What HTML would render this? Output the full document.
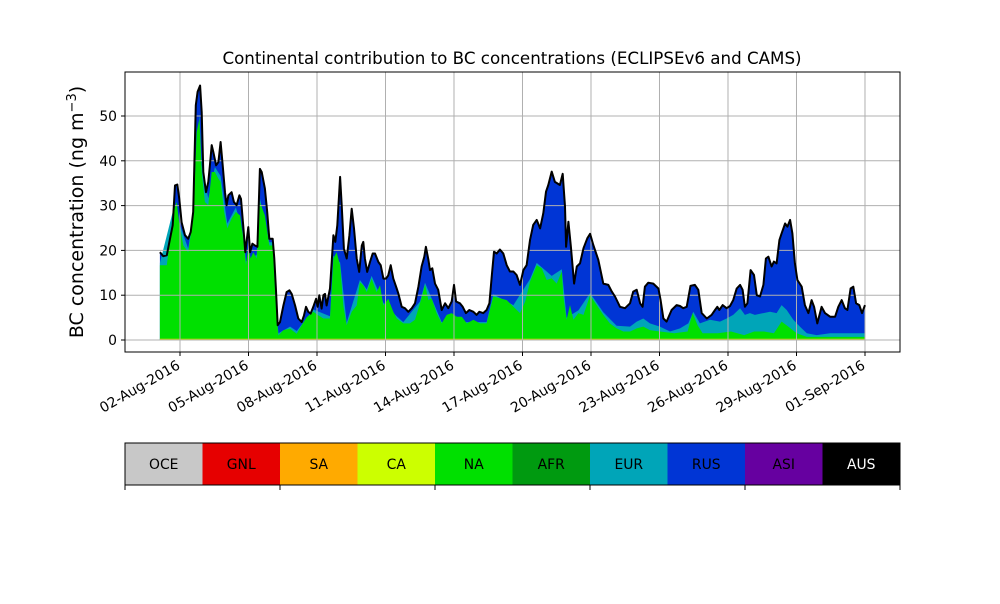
<!DOCTYPE html>
<html><head><meta charset="utf-8"><style>
body{margin:0;background:#fff;font-family:"DejaVu Sans",sans-serif}
svg text{font-family:"DejaVu Sans","Liberation Sans",sans-serif}
</style></head><body>
<svg id="c" width="1000" height="600" xmlns="http://www.w3.org/2000/svg">
<rect width="1000" height="600" fill="#fff"/>
<g id="areas"></g>
<g id="grid"></g>
<g id="topline"></g>
<rect x="125" y="72" width="775" height="280" fill="none" stroke="#000" stroke-width="1"/>
<g id="axes"></g>
<text x="512" y="64" text-anchor="middle" font-size="16.7">Continental contribution to BC concentrations (ECLIPSEv6 and CAMS)</text>
<text transform="translate(83,212) rotate(-90)" text-anchor="middle" font-size="19">BC concentration (ng m<tspan baseline-shift="super" font-size="13">−3</tspan>)</text>
<g id="legend"></g>
</svg>
<script>
const tTotal=[-0.88,-0.73,-0.58,-0.44,-0.32,-0.22,-0.12,-0.03,0.07,0.22,0.36,0.47,0.58,0.69,0.77,0.88,0.95,1.02,1.14,1.24,1.31,1.39,1.46,1.58,1.68,1.78,1.87,1.97,2.04,2.12,2.26,2.36,2.48,2.60,2.67,2.77,2.86,2.99,3.07,3.17,3.28,3.39,3.50,3.58,3.72,3.82,3.91,4.06,4.13,4.20,4.28,4.38,4.53,4.67,4.79,4.89,5.04,5.18,5.33,5.43,5.52,5.62,5.72,5.84,5.96,6.03,6.10,6.20,6.28,6.35,6.42,6.57,6.72,6.80,6.89,7.01,7.08,7.18,7.30,7.42,7.52,7.62,7.74,7.85,7.96,8.03,8.10,8.20,8.32,8.44,8.54,8.69,8.79,8.91,9.02,9.12,9.23,9.34,9.49,9.56,9.71,9.85,10.0,10.15,10.29,10.44,10.58,10.70,10.77,10.88,10.95,11.05,11.17,11.31,11.46,11.61,11.75,11.90,12.00,12.09,12.26,12.38,12.52,12.67,12.85,12.99,13.11,13.28,13.43,13.55,13.65,13.75,13.87,14.01,14.16,14.31,14.45,14.60,14.74,14.89,15.04,15.18,15.33,15.47,15.62,15.77,15.91,16.03,16.13,16.28,16.42,16.64,16.76,16.86,16.91,17.01,17.12,17.26,17.38,17.52,17.67,17.84,17.96,18.10,18.32,18.54,18.76,18.91,19.05,19.27,19.49,19.71,19.85,20.0,20.15,20.26,20.36,20.51,20.73,20.95,21.05,21.17,21.31,21.53,21.75,21.90,22.04,22.19,22.36,22.55,22.70,22.85,23.07,23.28,23.43,23.53,23.62,23.77,23.94,24.09,24.23,24.38,24.53,24.64,24.74,24.85,24.99,25.14,25.26,25.40,25.55,25.66,25.77,25.91,26.01,26.13,26.25,26.35,26.50,26.60,26.72,26.82,26.93,27.04,27.23,27.37,27.52,27.66,27.77,27.91,28.10,28.25,28.47,28.69,28.83,28.98,29.12,29.23,29.37,29.49,29.61,29.75,29.87,30.0];
const vTotal=[19.6,18.7,18.9,22.6,25.6,34.5,34.7,31.5,26.3,23.4,22.6,24.1,28.6,52.4,55.4,56.8,50.9,37.5,33.0,35.3,39.0,43.5,42.0,39.0,39.7,44.2,39.0,33.0,30.1,32.3,33.0,30.8,30.1,32.3,31.5,25.6,19.6,25.2,19.6,21.5,21.1,20.8,38.2,37.5,33.8,28.6,22.6,22.6,18.2,11.5,3.3,4.0,7.7,10.7,11.1,10.3,7.7,4.8,4.0,5.5,7.4,6.3,5.9,7.4,9.2,7.4,10.0,7.0,10.0,10.3,7.7,11.5,23.4,21.9,25.6,36.4,30.1,20.4,18.2,23.4,29.3,24.9,18.2,15.2,21.1,21.9,18.2,15.2,17.4,19.3,19.3,17.4,16.7,13.7,13.7,14.4,16.7,13.7,11.5,10.4,7.4,7.1,6.3,7.1,8.2,11.9,16.4,18.6,20.8,17.9,15.6,16.0,12.6,11.2,6.7,8.2,7.1,8.6,12.3,8.6,8.2,7.4,6.0,6.7,6.3,5.6,6.3,6.0,6.7,8.2,14.1,19.7,19.3,20.2,19.3,16.7,15.3,15.3,14.5,12.3,15.6,16.7,22.3,25.7,26.8,24.9,28.3,33.1,34.6,37.6,35.3,34.6,37.1,29.8,20.8,26.4,20.8,12.6,16.4,17.1,20.5,22.7,23.7,21.2,17.9,12.6,12.3,10.8,9.7,7.4,7.1,8.2,10.8,11.2,8.2,7.4,11.9,12.8,12.6,11.5,8.9,4.8,4.1,6.7,7.8,7.6,7.1,7.4,12.1,12.3,11.2,6.0,4.8,5.6,6.7,7.4,6.7,7.8,7.1,7.6,8.9,11.5,12.3,11.2,7.4,8.2,15.6,14.5,10.0,9.7,12.3,18.2,18.6,16.4,17.5,17.1,22.3,23.8,26.0,25.3,26.8,23.8,17.1,13.4,11.9,7.8,6.0,8.9,7.4,3.7,7.4,6.0,5.2,5.2,7.4,8.9,7.1,6.7,11.5,11.9,8.2,7.8,6.0,7.8];
const tEur=[-0.88,-0.29,0.0,0.36,0.58,0.85,0.95,1.24,1.53,1.78,2.07,2.45,2.77,2.89,3.36,3.50,3.91,4.06,4.20,4.31,4.82,5.11,5.84,6.57,6.72,7.01,7.30,7.88,8.18,8.39,8.91,9.49,9.78,10.51,10.73,11.46,12.56,13.43,13.72,14.60,15.33,15.62,16.28,16.72,16.93,17.45,17.96,18.54,19.12,19.71,20.0,20.29,20.58,21.02,21.46,21.90,22.26,22.48,22.77,23.21,23.65,23.94,24.23,24.53,24.74,24.96,25.18,25.55,25.84,26.13,26.35,26.57,26.86,27.15,27.45,27.88,28.47,29.18,30.0];
const vEur=[17.2,29.2,25.6,20.4,27.8,50.4,39.0,31.6,38.6,36.6,26.0,29.6,23.6,17.6,19.0,31.6,21.8,21.8,8.3,1.5,3.0,2.0,6.8,5.3,18.8,17.3,3.9,13.4,11.3,14.3,8.3,5.3,4.0,8.6,12.8,4.0,4.0,4.0,10.2,7.8,13.6,17.2,14.3,15.8,5.0,6.6,10.5,6.2,3.2,3.0,4.1,4.8,3.7,3.0,1.9,2.6,3.7,6.3,3.7,4.5,4.1,4.8,5.6,7.1,5.6,6.0,5.6,6.0,6.3,6.0,7.8,6.7,4.5,3.0,1.5,1.1,1.5,1.5,1.5];
const tNa=[-0.88,-0.58,-0.29,-0.15,0,0.15,0.36,0.58,0.73,0.85,0.95,1.09,1.24,1.39,1.53,1.68,1.78,1.93,2.07,2.26,2.45,2.63,2.77,2.89,2.99,3.09,3.21,3.36,3.50,3.72,3.91,4.06,4.20,4.31,4.53,4.82,5.11,5.33,5.55,5.84,6.06,6.28,6.57,6.72,6.86,7.01,7.15,7.30,7.52,7.74,7.88,8.03,8.18,8.39,8.61,8.76,8.91,9.12,9.34,9.49,9.78,10.07,10.29,10.51,10.73,10.88,11.02,11.24,11.46,11.68,11.90,12.12,12.34,12.56,12.85,13.14,13.43,13.72,14.01,14.31,14.60,14.89,15.12,15.33,15.62,15.84,16.06,16.28,16.50,16.72,16.79,16.93,17.08,17.23,17.45,17.67,17.96,18.25,18.54,18.83,19.12,19.42,19.71,20.0,20.29,20.58,21.02,21.65,22.23,22.45,22.67,22.89,23.55,24.13,24.71,25.15,25.58,26.01,26.35,26.64,27.01,27.45,30.0];
const vNa=[16.7,16.7,28.6,30.8,24.9,21.1,19.6,27.1,46.4,49.4,37.5,30.8,30.1,37.5,37.5,36.0,35.3,28.6,24.9,27.1,28.6,27.8,22.6,16.7,21.1,18.2,19.6,18.2,30.8,27.8,21.1,21.1,7.7,1.0,2.2,2.5,1.4,3.3,5.1,6.3,5.5,4.8,4.8,18.2,19.6,16.7,7.7,3.3,6.3,7.7,12.9,12.2,10.7,13.7,10.7,12.2,7.7,9.2,6.3,4.8,3.7,3.7,4.5,8.2,12.3,8.9,9.3,6.0,3.7,5.6,6.0,5.2,5.2,3.7,4.5,3.7,3.7,9.7,9.3,8.9,7.4,6.0,8.6,13.0,16.7,16.0,13.4,13.8,12.6,15.3,9.7,4.5,7.8,4.5,6.0,5.6,10.0,7.8,5.6,3.7,2.6,1.9,1.9,2.6,3.0,2.2,1.9,1.5,1.9,6.0,3.3,1.5,1.5,1.9,1.1,1.9,1.9,1.5,4.1,3.0,1.5,0.7,0.7];
const yTicks=[0,10,20,30,40,50];
const xTickDays=[0,3,6,9,12,15,18,21,24,27,30];
const xTickLabels=["02-Aug-2016","05-Aug-2016","08-Aug-2016","11-Aug-2016","14-Aug-2016","17-Aug-2016","20-Aug-2016","23-Aug-2016","26-Aug-2016","29-Aug-2016","01-Sep-2016"];
const legendNames=["OCE","GNL","SA","CA","NA","AFR","EUR","RUS","ASI","AUS"];
const legendColors=["#c8c8c8","#e60000","#ffaa00","#ccff00","#00e000","#009a10","#00a5b8","#0035d5","#6600a0","#000000"];

const NS="http://www.w3.org/2000/svg";
const X=d=>180+d*22.833, Y=v=>340-v*4.48;
function mk(tag,attrs,parent){const e=document.createElementNS(NS,tag);for(const k in attrs)e.setAttribute(k,attrs[k]);parent.appendChild(e);return e;}
const grid=document.getElementById('grid'),areas=document.getElementById('areas'),axes=document.getElementById('axes'),legend=document.getElementById('legend'),topline=document.getElementById('topline');
yTicks.forEach(v=>{
  const l=mk('line',{x1:125,x2:900,y1:Y(v),y2:Y(v),stroke:'#b0b0b0','stroke-width':1},grid);
  
  
  const t=mk('line',{x1:121,x2:125,y1:Y(v),y2:Y(v),stroke:'#000'},axes);
  
  
  const tx=mk('text',{x:117,y:Y(v)+5,'text-anchor':'end','font-size':13.9},axes);
  tx.textContent=v;
  
  
});
xTickDays.forEach((d,i)=>{
  const l=mk('line',{x1:X(d),x2:X(d),y1:72,y2:352,stroke:'#b0b0b0','stroke-width':1},grid);
  
  
  const t=mk('line',{x1:X(d),x2:X(d),y1:352,y2:356,stroke:'#000'},axes);
  
  
  const tx=mk('text',{x:0,y:0,'text-anchor':'end','font-size':13.9,transform:`translate(${X(d)+1},${368}) rotate(-30)`},axes);
  tx.textContent=xTickLabels[i];
  
  
});
function areaPath(ts,vs){let p=`M${X(ts[0])},${Y(0)}`;ts.forEach((t,i)=>p+=`L${X(t).toFixed(1)},${Y(vs[i]).toFixed(1)}`);p+=`L${X(ts[ts.length-1])},${Y(0)}Z`;return p;}
const rus=mk('path',{d:areaPath(tTotal,vTotal),fill:'#0035d5'},areas);


const eur=mk('path',{d:areaPath(tEur,vEur),fill:'#00a5b8'},areas);


const na=mk('path',{d:areaPath(tNa,vNa),fill:'#00e000'},areas);


const ca=mk('rect',{x:X(tTotal[0]),y:Y(0.3),width:X(30)-X(tTotal[0]),height:Y(0)-Y(0.3),fill:'#b8d800'},areas);


let lp='';tTotal.forEach((t,i)=>lp+=(i?'L':'M')+X(t).toFixed(1)+','+Y(vTotal[i]).toFixed(1));
const tl=mk('path',{d:lp,fill:'none',stroke:'#000','stroke-width':2,'stroke-linejoin':'round'},topline);


legendNames.forEach((n,i)=>{
  const x=125+i*77.5;
  const r=mk('rect',{x:x,y:443,width:77.5,height:42,fill:legendColors[i]},legend);
  
  
  const t=mk('text',{x:x+38.75,y:469,'text-anchor':'middle','font-size':13.9,fill:n==='AUS'?'#fff':'#000'},legend);
  t.textContent=n;
  
  
});
const fr=mk('rect',{x:125,y:443,width:775,height:42,fill:'none',stroke:'#000','stroke-width':1},legend);


[125,280,435,590,745,900].forEach(x=>{
  const t=mk('line',{x1:x,x2:x,y1:485,y2:490,stroke:'#000'},legend);
  
  
});
</script>
</body></html>
